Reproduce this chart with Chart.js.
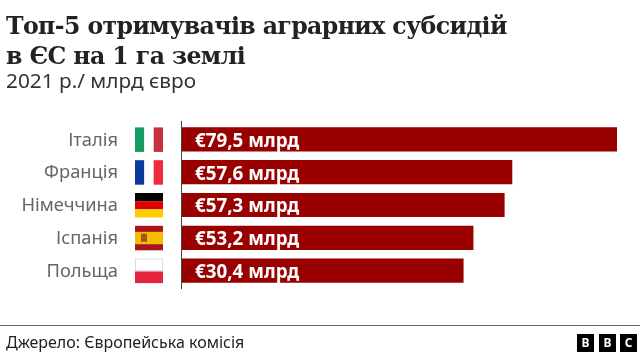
<!DOCTYPE html>
<html>
<head>
<meta charset="utf-8">
<script src="https://cdn.jsdelivr.net/npm/chart.js@4"></script>
<style>
  html, body { margin: 0; padding: 0; background: #fff; }
  #wrap { position: relative; width: 640px; height: 364px; overflow: hidden; }
  #myChart { position: absolute; left: 0; top: 0; }
  .txt { position: absolute; white-space: nowrap; }
  #title { left: 6px; top: 12px; font: bold 23.6px/29.5px "DejaVu Serif", serif; color: #222; letter-spacing: -0.6px; }
  #sub { left: 6px; top: 67px; font: 20.8px/26px "Noto Sans", sans-serif; color: #333; }
  #source { left: 6px; top: 331px; font: 16px/22px "Noto Sans", sans-serif; color: #222; }
  #rule { position: absolute; left: 0; top: 325px; width: 640px; height: 1px; background: #666; }
  .bbc { position: absolute; top: 334px; width: 17px; height: 18px; background: #000; color: #fff; font: bold 12px/18px "Noto Sans", sans-serif; text-align: center; }
</style>
</head>
<body>
<div id="wrap">
  <canvas id="myChart" width="640" height="364"></canvas>
  <div id="title" class="txt">Топ-5 отримувачів аграрних субсидій<br>в ЄС на 1 га землі</div>
  <div id="sub" class="txt">2021 р./ млрд євро</div>
  <div id="rule"></div>
  <div id="source" class="txt">Джерело: Європейська комісія</div>
  <div class="bbc" style="left:577px">B</div>
  <div class="bbc" style="left:599px">B</div>
  <div class="bbc" style="left:620px">C</div>
</div>
<script>
const countries = ['Італія', 'Франція', 'Німеччина', 'Іспанія', 'Польща'];
// bar lengths as drawn in the picture, they do not all follow the printed labels
const barValues = [79.5, 60.3, 58.9, 53.2, 51.4];
const valueLabels = ['€79,5 млрд', '€57,6 млрд', '€57,3 млрд', '€53,2 млрд', '€30,4 млрд'];

// flag stripes, v = vertical, h = horizontal
const flags = [
  { dir: 'v', colors: ['#169b62', '#ffffff', '#c8303f'] },
  { dir: 'v', colors: ['#0a3a9c', '#ffffff', '#ee2a3c'] },
  { dir: 'h', colors: ['#000000', '#dd0000', '#ffce00'] },
  { dir: 'h', colors: ['#aa151b', '#f1bf00', '#f1bf00', '#aa151b'] },
  { dir: 'h', colors: ['#ffffff', '#e4233c'] }
];

function drawFlag(ctx, flag, x, y, w, h) {
  const n = flag.colors.length;
  flag.colors.forEach((c, i) => {
    ctx.fillStyle = c;
    if (flag.dir === 'v') ctx.fillRect(x + i * w / n, y, w / n, h);
    else ctx.fillRect(x, y + i * h / n, w, h / n);
  });
}

const extras = {
  id: 'extras',
  afterDatasetsDraw(chart) {
    const ctx = chart.ctx;
    const yScale = chart.scales.y;
    const xScale = chart.scales.x;
    ctx.save();

    // axis line runs a little past the bars
    ctx.fillStyle = '#444';
    ctx.fillRect(xScale.left - 1, yScale.top - 2, 1, yScale.bottom - yScale.top + 4);

    countries.forEach((name, i) => {
      const cy = yScale.getPixelForValue(i);
      drawFlag(ctx, flags[i], 135, cy - 12, 28, 24.5);
      if (i === 3) {
        ctx.fillStyle = '#a5541c';
        ctx.fillRect(141, cy - 4, 6, 8);
      }
      if (i === 4) {
        // only the white half gets the thin outline
        ctx.strokeStyle = '#ddd';
        ctx.strokeRect(135.5, cy - 11.5, 27, 12);
      }
      ctx.fillStyle = '#fff';
      ctx.font = 'bold 18.8px "Noto Sans", sans-serif';
      ctx.textAlign = 'left';
      ctx.textBaseline = 'middle';
      ctx.fillText(valueLabels[i], xScale.left + 13, cy + 2);
    });
    ctx.restore();
  }
};

const myChart = new Chart(document.getElementById('myChart').getContext('2d'), {
  type: 'bar',
  data: {
    labels: countries,
    datasets: [{
      data: barValues,
      backgroundColor: '#990000',
      barThickness: 23.5
    }]
  },
  options: {
    indexAxis: 'y',
    responsive: false,
    animation: false,
    events: [],
    layout: { padding: { top: 123, bottom: 77, left: 0, right: 23 } },
    plugins: { legend: { display: false }, tooltip: { enabled: false } },
    scales: {
      x: { display: false, min: 0, max: 79.5 },
      y: {
        afterFit: scale => { scale.width = 182; },
        grid: { display: false, drawTicks: false },
        border: { display: false },
        ticks: {
          padding: 64,
          labelOffset: 1,
          color: '#666',
          font: { family: '"Noto Sans", sans-serif', size: 18.3 }
        }
      }
    }
  },
  plugins: [extras]
});
</script>
</body>
</html>
